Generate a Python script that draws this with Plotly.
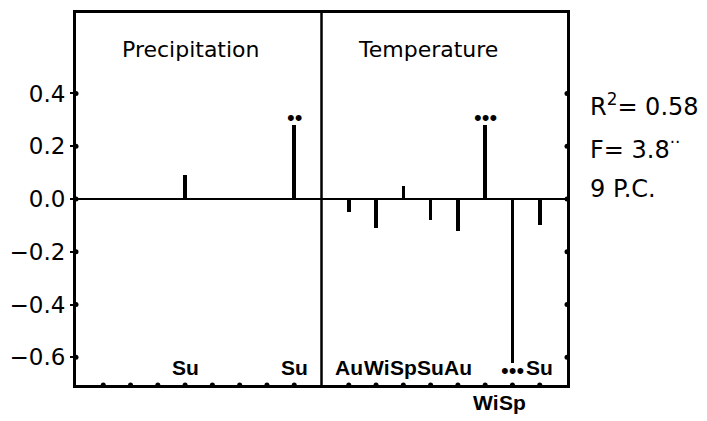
import plotly.graph_objects as go

# ---- data ----
precip_values = [0, 0, 0, 0.09, 0, 0, 0, 0.28]
temp_values = [-0.05, -0.11, 0.05, -0.08, -0.12, 0.28, -0.62, -0.10]
precip_labels = ["", "", "", "Su", "", "", "", "Su"]
temp_labels = ["Au", "Wi", "Sp", "Su", "Au", "Wi", "Sp", "Su"]
temp_label_below = [False, False, False, False, False, True, True, False]
precip_sig = ["", "", "", "", "", "", "", "••"]
temp_sig = ["", "", "", "", "", "•••", "•••", ""]
panel_titles = ["Precipitation", "Temperature"]
y_ticks = [-0.6, -0.4, -0.2, 0.0, 0.2, 0.4]
y_ticktext = ["−0.6", "−0.4", "−0.2", "0.0", "0.2", "0.4"]
stats_lines = ["R<sup>2</sup>= 0.58", "F= 3.8<sup>··</sup>", "9 P.C."]

n = len(precip_values)
precip_x = list(range(1, n + 1))
temp_x = [n + 1 + i for i in range(1, n + 1)]
xmax = 2 * (n + 1)
YR = [-0.705, 0.705]

FONT = "DejaVu Sans, Liberation Sans, Arial, sans-serif"
NARROW = "Liberation Sans Narrow, Liberation Sans, Arial, sans-serif"
DOTFONT = "Liberation Sans, Arial, sans-serif"

fig = go.Figure()
fig.add_trace(go.Bar(x=precip_x + temp_x, y=precip_values + temp_values,
                     width=0.13, marker=dict(color="black", line=dict(width=0)),
                     showlegend=False, hoverinfo="skip"))

# tick dots on bottom axis
fig.add_trace(go.Scatter(x=precip_x + temp_x, y=[YR[0]] * (2 * n), mode="markers",
                         marker=dict(color="black", size=5), cliponaxis=False,
                         showlegend=False, hoverinfo="skip"))
# tick dots on left and right axes
fig.add_trace(go.Scatter(x=[0] * len(y_ticks) + [xmax] * len(y_ticks), y=y_ticks + y_ticks,
                         mode="markers", marker=dict(color="black", size=5),
                         cliponaxis=False, showlegend=False, hoverinfo="skip"))

# divider between panels
fig.add_shape(type="line", x0=n + 1, x1=n + 1, y0=0, y1=1, xref="x", yref="paper",
              line=dict(color="black", width=2.5))

# season labels
for xs, labs, below in [(precip_x, precip_labels, [False] * n), (temp_x, temp_labels, temp_label_below)]:
    for xv, lab, b in zip(xs, labs, below):
        if not lab:
            continue
        fig.add_annotation(x=xv, y=0, yref="paper", text="<b>" + lab + "</b>", showarrow=False,
                           yanchor="top" if b else "bottom", yshift=-4 if b else 4,
                           font=dict(family=NARROW, size=21, color="black"))

# significance dots
for xs, vals, sigs in [(precip_x, precip_values, precip_sig), (temp_x, temp_values, temp_sig)]:
    for xv, v, s in zip(xs, vals, sigs):
        if not s:
            continue
        fig.add_annotation(x=xv, y=v, text=s, showarrow=False,
                           yanchor="bottom" if v > 0 else "top",
                           yshift=-7 if v > 0 else 7,
                           font=dict(family=DOTFONT, size=22, color="black"))

# panel titles
for cx, t in zip([(n + 1) / 2 - 0.3, (n + 1) * 1.5 - 0.6], panel_titles):
    fig.add_annotation(x=cx, y=0.94, yref="paper", text=t, showarrow=False,
                       font=dict(family=FONT, size=22, color="black"))

# stats text
for yb, s in zip([0.704, 0.589, 0.485], stats_lines):
    fig.add_annotation(x=1.042, y=yb, xref="paper", yref="paper", text=s,
                       xanchor="left", yanchor="bottom", showarrow=False,
                       font=dict(family=FONT, size=24, color="black"))

fig.update_layout(
    width=707, height=421,
    margin=dict(l=76, r=140, t=10, b=36),
    paper_bgcolor="white", plot_bgcolor="white",
    bargap=0,
)
fig.update_xaxes(range=[0, xmax], showgrid=False, zeroline=False, showticklabels=False,
                 showline=True, linewidth=3, linecolor="black", mirror=True, ticks="")
fig.update_yaxes(range=YR, showgrid=False, zeroline=True, zerolinecolor="black", zerolinewidth=2,
                 tickvals=y_ticks, ticktext=y_ticktext, ticks="outside", ticklen=3, tickwidth=2,
                 tickcolor="black",
                 tickfont=dict(family=FONT, size=23, color="black"),
                 showline=True, linewidth=3, linecolor="black", mirror=True)

fig.write_html("out.html", config={"displayModeBar": False},
               post_script="document.body.style.margin='0px';")
